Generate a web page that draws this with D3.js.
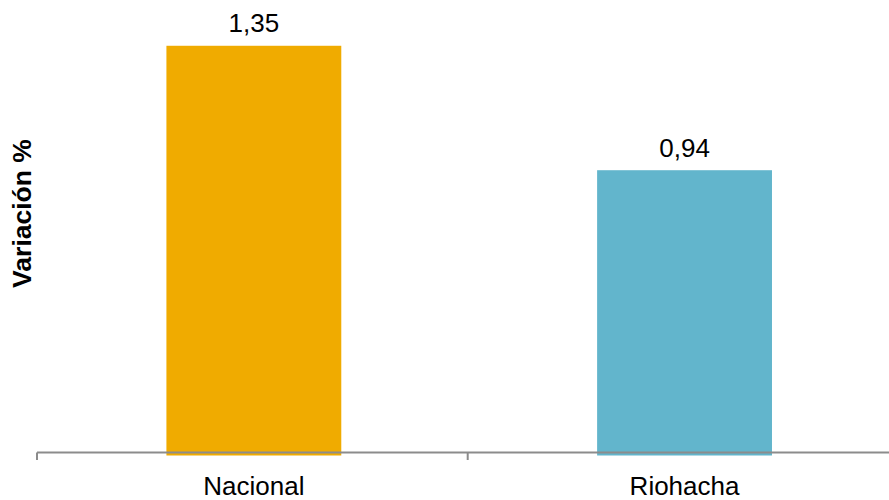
<!DOCTYPE html>
<html>
<head>
<meta charset="utf-8">
<script src="https://cdn.jsdelivr.net/npm/d3@7"></script>
<style>
  html, body { margin: 0; padding: 0; background: #ffffff; }
  svg { display: block; }
  text { font-family: "Liberation Sans", Arial, sans-serif; }
</style>
</head>
<body>
<div id="chart"></div>
<script>
const categories = ["Nacional", "Riohacha"];
const values = [1.35, 0.94];
const valueLabels = ["1,35", "0,94"];
const colors = ["#F0AB00", "#62B5CC"];
const axisTitle = "Variación %";

const W = 889, H = 500;
const svg = d3.select("#chart").append("svg")
  .attr("width", W).attr("height", H);

const x = d3.scaleBand()
  .domain(categories)
  .range([37, 898.4])
  .paddingInner(0.594)
  .paddingOuter(0.297);

const y = d3.scaleLinear()
  .domain([0, 1.5])
  .range([455.5, 0.25]);

// bars
svg.selectAll("rect.bar")
  .data(values)
  .join("rect")
  .attr("class", "bar")
  .attr("x", (d, i) => x(categories[i]) + 1.5)
  .attr("width", x.bandwidth())
  .attr("y", d => y(d))
  .attr("height", d => y(0) - y(d))
  .attr("fill", (d, i) => colors[i]);

// x axis line
const axisY = 452.5;
svg.append("line")
  .attr("x1", 37).attr("x2", W)
  .attr("y1", axisY).attr("y2", axisY)
  .attr("stroke", "#8C8C8C").attr("stroke-width", 2);

// tick marks at category boundaries
const boundaries = [x.range()[0], x.range()[0] + x.step()];
svg.selectAll("line.tick")
  .data(boundaries)
  .join("line")
  .attr("class", "tick")
  .attr("x1", d => d).attr("x2", d => d)
  .attr("y1", axisY).attr("y2", axisY + 7.5)
  .attr("stroke", "#8C8C8C").attr("stroke-width", 2);

// category labels
svg.selectAll("text.cat")
  .data(categories)
  .join("text")
  .attr("class", "cat")
  .attr("x", d => x(d) + x.bandwidth() / 2 + 1.5)
  .attr("y", 495)
  .attr("text-anchor", "middle")
  .attr("font-size", 26)
  .attr("fill", "#000")
  .text(d => d);

// value labels
svg.selectAll("text.val")
  .data(values)
  .join("text")
  .attr("class", "val")
  .attr("x", (d, i) => x(categories[i]) + x.bandwidth() / 2 + 1.5)
  .attr("y", d => y(d) - 13.5)
  .attr("text-anchor", "middle")
  .attr("font-size", 26)
  .attr("fill", "#000")
  .text((d, i) => valueLabels[i]);

// y axis title
svg.append("text")
  .attr("transform", "translate(30.5,213.5) rotate(-90)")
  .attr("text-anchor", "middle")
  .attr("font-size", 26.5)
  .attr("font-weight", "bold")
  .attr("fill", "#000")
  .text(axisTitle);
</script>
</body>
</html>
